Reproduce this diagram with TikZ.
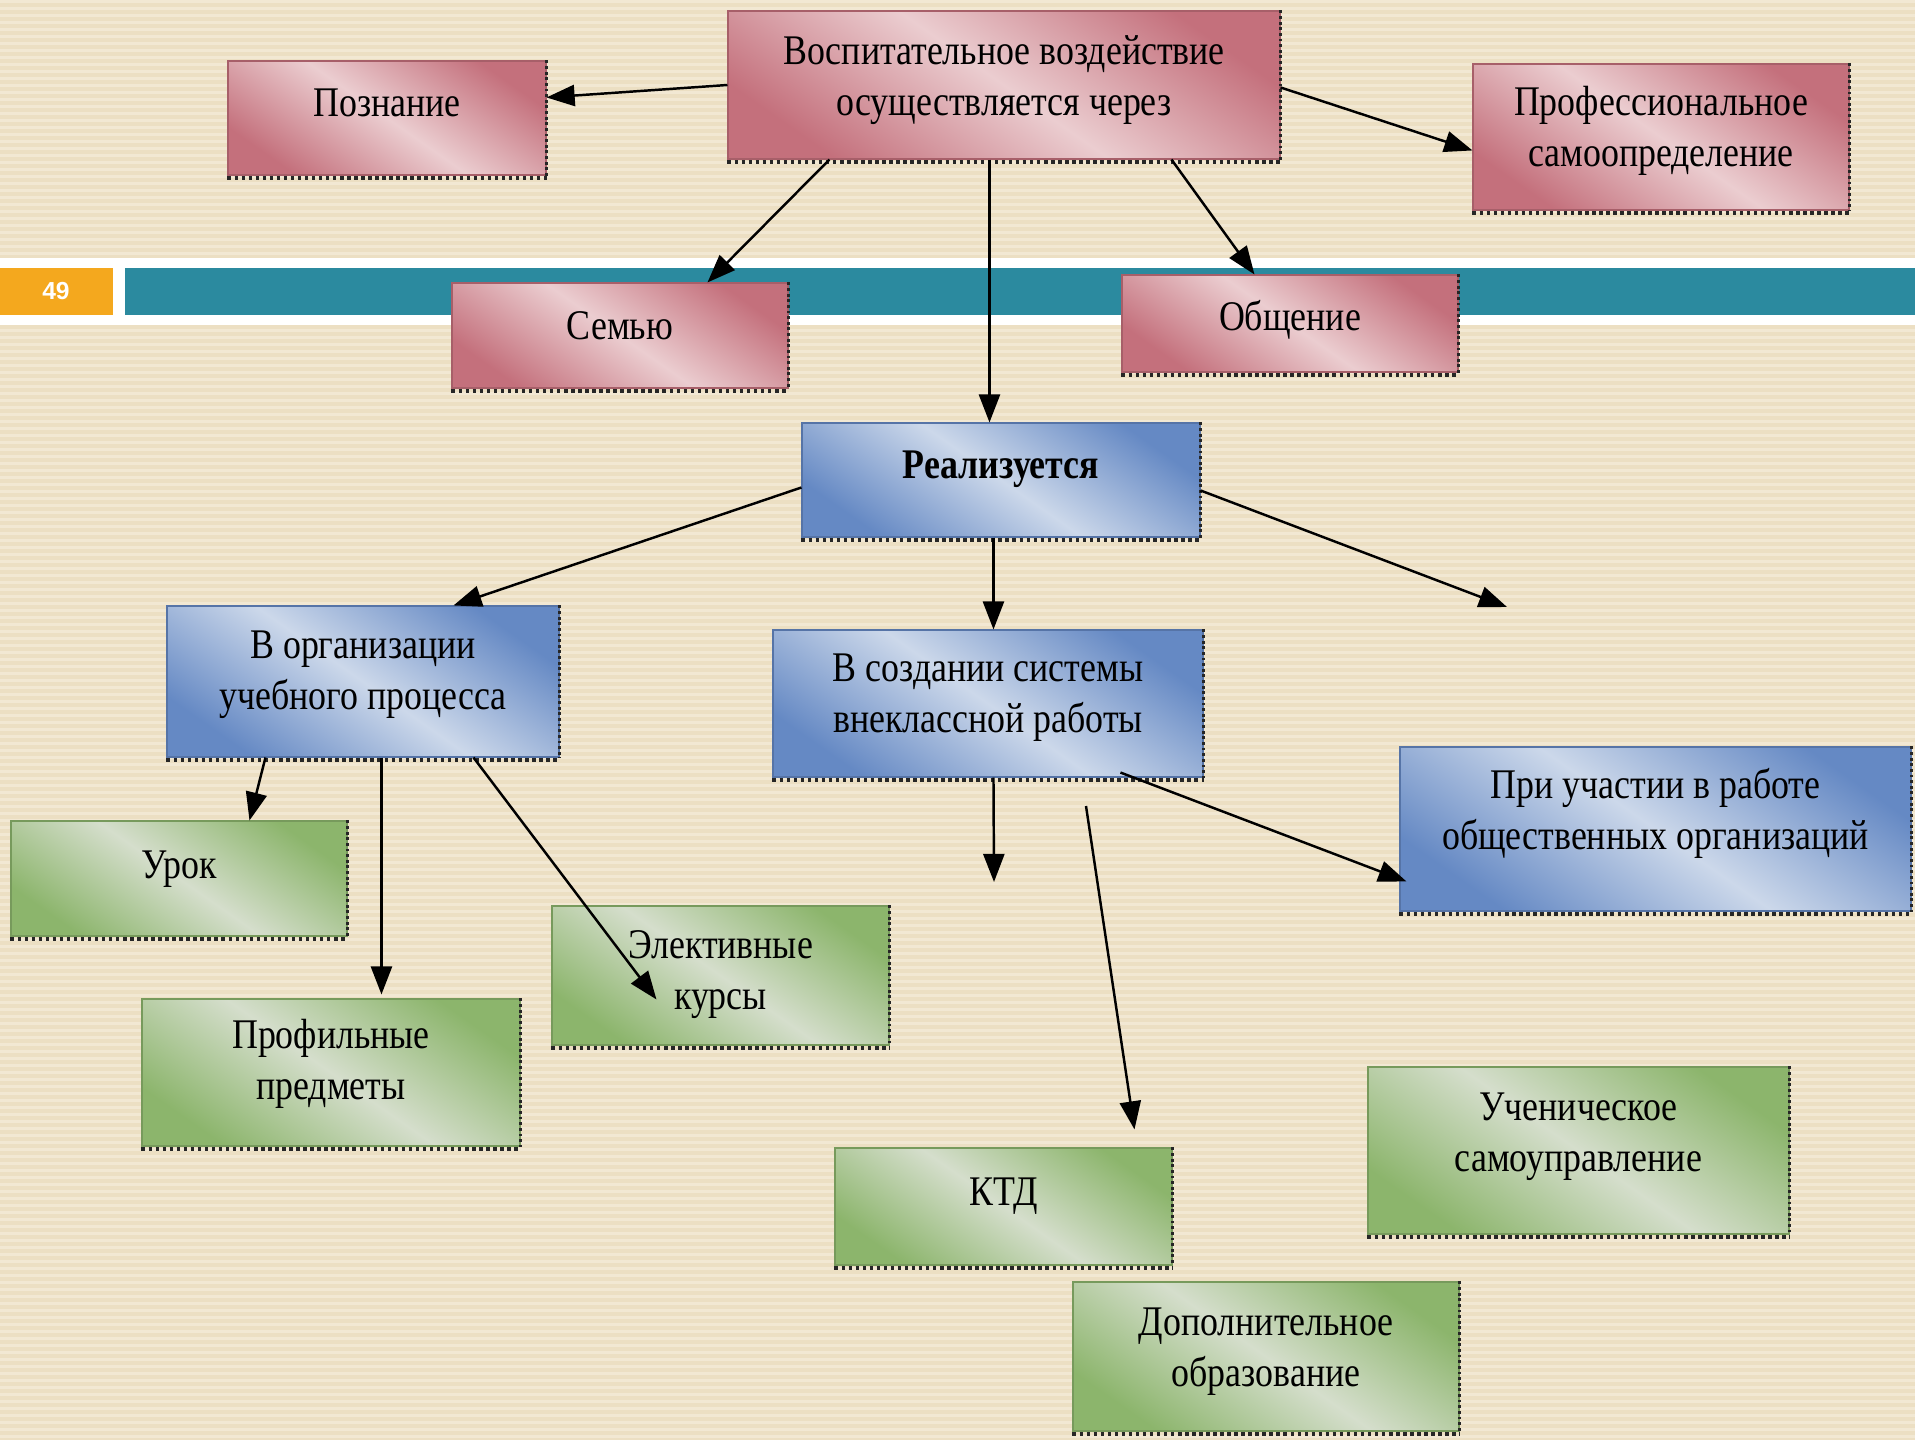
\documentclass[tikz,border=0pt]{standalone}
\usepackage{fontspec}
\setmainfont{Liberation Serif}[FakeStretch=0.85]
\setsansfont{Liberation Sans}
\usetikzlibrary{arrows.meta,fit,calc}
\definecolor{bgA}{HTML}{ECDFC3}
\definecolor{bgB}{HTML}{F2E8D3}
\definecolor{redD}{HTML}{C4707C}
\definecolor{redL}{HTML}{EBCDD0}
\definecolor{bluD}{HTML}{6589C4}
\definecolor{bluL}{HTML}{CCD8EA}
\definecolor{grnD}{HTML}{8CB56C}
\definecolor{grnL}{HTML}{D5DECC}
\definecolor{bandteal}{HTML}{2B8A9F}
\definecolor{orng}{HTML}{F4A81E}
\tikzset{
  boxbase/.style={inner sep=0pt, line width=0.3pt},
  rbox/.style={boxbase, draw=redD!85!black, top color=redD, bottom color=redD, middle color=redL, shading angle=-35},
  bbox/.style={boxbase, draw=bluD!85!black, top color=bluD, bottom color=bluD, middle color=bluL, shading angle=-35},
  gbox/.style={boxbase, draw=grnD!85!black, top color=grnD, bottom color=grnD, middle color=grnL, shading angle=-35},
  txt/.style={align=center, inner sep=0pt, font=\fontsize{12}{14.5}\selectfont},
  redge/.style={draw=black!85, line width=0.6pt, dash pattern=on 0.8pt off 0.8pt},
  bedge/.style={draw=black!85, line width=1.3pt, dash pattern=on 1pt off 1pt},
  arr/.style={draw=black, line width=0.7pt, -{Triangle[length=8pt,width=6pt]}}
}
\begin{document}
\begin{tikzpicture}[x=0.01cm,y=-0.01cm]
\useasboundingbox (0,0) rectangle (1915,1440);
% background
\fill[bgA] (0,0) rectangle (1915,1440);
\foreach \i in {0,...,205} \fill[bgB] (0,\i*7) rectangle (1915,\i*7+3);
% band
\fill[white] (0,258) rectangle (1915,325);
\fill[orng] (0,268) rectangle (113,315);
\fill[bandteal] (125,268) rectangle (1915,315);
\node[font=\sffamily\bfseries\fontsize{7}{8}\selectfont, text=white] (pg) at (56,291) {49};
% boxes
\node[rbox, fit={(728,11) (1280,159)}] (vos) {};
\node[rbox, fit={(228,61) (546,175)}] (poz) {};
\node[rbox, fit={(1473,64) (1849,210)}] (prof) {};
\node[rbox, fit={(452,283) (788,388)}] (sem) {};
\node[rbox, fit={(1122,275) (1458,372)}] (obs) {};
\node[bbox, fit={(802,423) (1200,537)}] (real) {};
\node[bbox, fit={(167,606) (559,757)}] (org) {};
\node[bbox, fit={(773,630) (1203,777)}] (soz) {};
\node[bbox, fit={(1400,747) (1911,911)}] (pri) {};
\node[gbox, fit={(11,821) (347,936)}] (urok) {};
\node[gbox, fit={(142,999) (520,1146)}] (pro) {};
\node[gbox, fit={(552,906) (889,1045)}] (elek) {};
\node[gbox, fit={(835,1148) (1172,1265)}] (ktd) {};
\node[gbox, fit={(1368,1067) (1789,1234)}] (uch) {};
\node[gbox, fit={(1073,1282) (1459,1431)}] (dop) {};
\foreach \n in {vos,poz,prof,sem,obs,real,org,soz,pri,urok,pro,elek,ktd,uch,dop}{
  \draw[redge] (\n.north east) -- (\n.south east);
  \draw[bedge] ([yshift=-0.7pt]\n.south west) -- ([yshift=-0.7pt]\n.south east);
}
% texts
\node[txt] (vost) at ([yshift=1.3pt]vos.center) {Воспитательное воздействие\\осуществляется через};
\node[txt] (pozt) at ([yshift=4.3pt]poz.center) {Познание};
\node[txt] (proft) at ([yshift=1.8pt]prof.center) {Профессиональное\\самоопределение};
\node[txt] (semt) at ([yshift=2.7pt]sem.center) {Семью};
\node[txt] (obst) at ([yshift=1pt]obs.center) {Общение};
\node[txt, font=\fontsize{12}{14.5}\selectfont\bfseries] (realt) at ([yshift=3pt]real.center) {Реализуется};
\node[txt] (orgt) at ([yshift=1.8pt]org.center) {В организации\\учебного процесса};
\node[txt] (sozt) at ([yshift=1.6pt]soz.center) {В создании системы\\внеклассной работы};
\node[txt] (prit) at ([yshift=4.3pt]pri.center) {При участии в работе\\общественных организаций};
\node[txt] (urokt) at ([yshift=2.7pt]urok.center) {Урок};
\node[txt] (prot) at ([yshift=2.4pt]pro.center) {Профильные\\предметы};
\node[txt] (elekt) at ([yshift=0.3pt]elek.center) {Элективные\\курсы};
\node[txt] (ktdt) at ([yshift=3pt]ktd.center) {КТД};
\node[txt] (ucht) at ([yshift=4pt]uch.center) {Ученическое\\самоуправление};
\node[txt] (dopt) at ([yshift=1.4pt]dop.center) {Дополнительное\\образование};
% free ends
\coordinate (f1) at (1507,607);
\coordinate (f2) at (994,882);
\coordinate (f3) at (1086,806);
% arrows
\draw[arr] (vos.west) -- ($(poz.north east)+(0,37)$);
\draw[arr] ($(vos.north east)+(0,77)$) -- ($(prof.north west)+(0,87)$);
\draw[arr] ($(vos.south west)+(102,0)$) -- ($(sem.north west)+(256,0)$);
\draw[arr] ($(vos.south west)+(444,0)$) -- ($(obs.north west)+(133,0)$);
\draw[arr] ($(vos.south west)+(262,0)$) -- ($(real.north west)+(188,0)$);
\draw[arr] ($(real.north west)+(0,65)$) -- ($(org.north west)+(287,0)$);
\draw[arr] ($(real.south west)+(192,0)$) -- ($(soz.north west)+(221,0)$);
\draw[arr] ($(real.north east)+(0,68)$) -- (f1);
\draw[arr] ($(org.south west)+(99,0)$) -- ($(urok.north west)+(239,0)$);
\draw[arr] ($(org.south west)+(215,0)$) -- ($(pro.north west)+(240,-4)$);
\draw[arr] ($(org.south west)+(307,0)$) -- ($(elek.north west)+(105,94)$);
\draw[arr] ($(soz.south west)+(221,0)$) -- (f2);
\draw[arr] (f3) -- ($(ktd.north west)+(300,-18)$);
\draw[arr] ($(soz.south west)+(348,-5)$) -- ($(pri.north west)+(7,135)$);
\end{tikzpicture}
\end{document}
